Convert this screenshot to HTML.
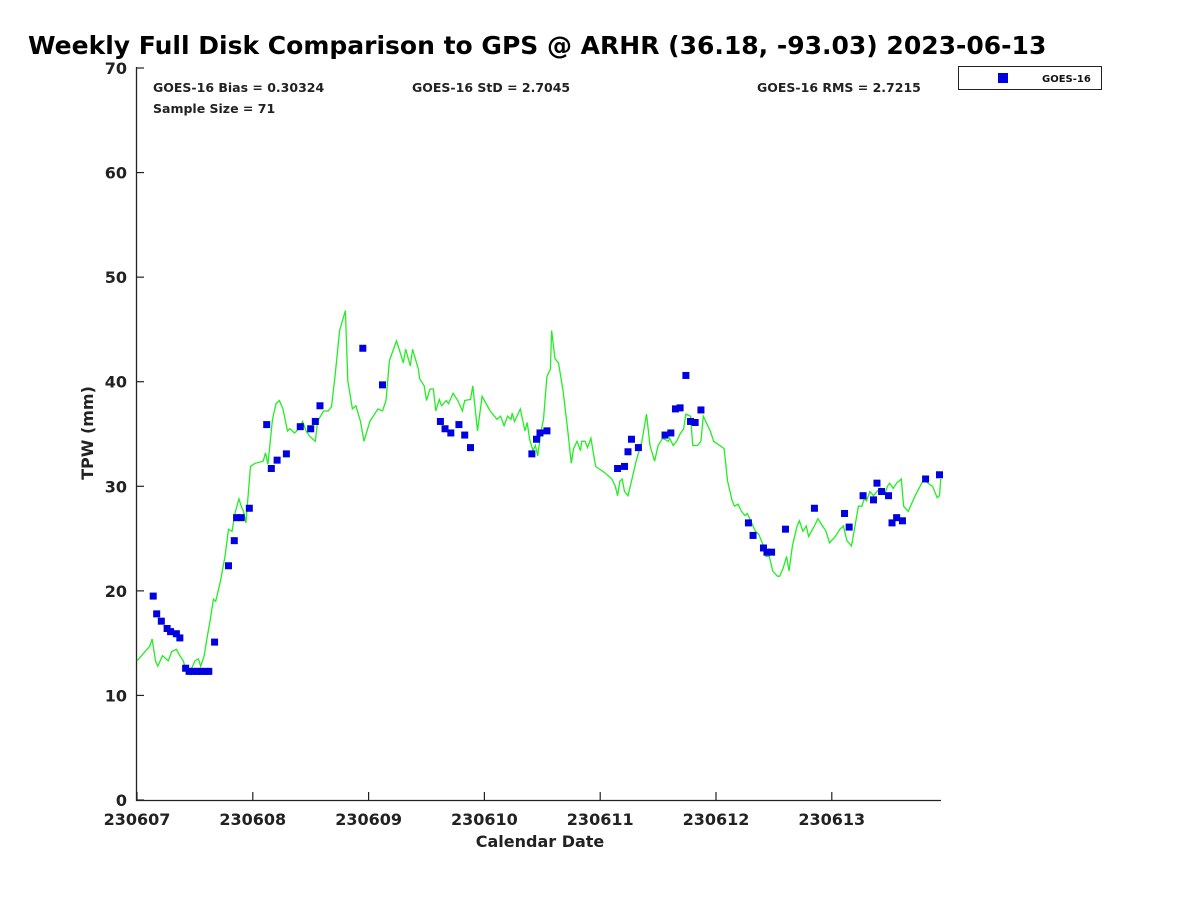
<!DOCTYPE html>
<html><head><meta charset="utf-8"><style>
body{margin:0;background:#fff;}
svg{font-family:"DejaVu Sans","Liberation Sans",sans-serif;}
</style></head><body>
<svg id="chart" width="1200" height="900">
<rect width="1200" height="900" fill="#fff"/>
<text x="28" y="54" font-size="25" font-weight="bold" fill="#000">Weekly Full Disk Comparison to GPS @ ARHR (36.18, -93.03) 2023-06-13</text>
<text x="153" y="92" font-size="12.5" font-weight="bold" fill="#222">GOES-16 Bias = 0.30324</text>
<text x="412" y="92" font-size="12.5" font-weight="bold" fill="#222">GOES-16 StD = 2.7045</text>
<text x="757" y="92" font-size="12.5" font-weight="bold" fill="#222">GOES-16 RMS = 2.7215</text>
<text x="153" y="113" font-size="12.5" font-weight="bold" fill="#222">Sample Size = 71</text>
<g>
<rect x="958.5" y="66.5" width="143" height="23" fill="#fff" stroke="#222" stroke-width="1"/>
<rect x="998" y="73" width="10" height="10" fill="#0000e0"/>
<text x="1042" y="82" font-size="10" font-weight="bold" fill="#111">GOES-16</text>
</g>
<g id="axes"></g>
<g id="series"></g>
<text x="540" y="847" font-size="16" font-weight="bold" fill="#222" text-anchor="middle">Calendar Date</text>
<text transform="translate(93,433) rotate(-90)" font-size="16" font-weight="bold" fill="#222" text-anchor="middle">TPW (mm)</text>
</svg>
<script>
const xTickLabels=["230607","230608","230609","230610","230611","230612","230613"];
const yTickValues=[0,10,20,30,40,50,60,70];
const gpsDays=[0,.11,.13,.16,.18,.22,.27,.30,.34,.37,.40,.42,.46,.50,.53,.55,.58,.60,.63,.66,.68,.72,.76,.79,.82,.85,.88,.90,.92,.94,.98,1.02,1.09,1.11,1.13,1.17,1.20,1.23,1.26,1.30,1.32,1.36,1.38,1.41,1.43,1.46,1.49,1.54,1.56,1.61,1.65,1.68,1.71,1.75,1.80,1.82,1.86,1.89,1.93,1.96,2.01,2.08,2.12,2.15,2.18,2.24,2.27,2.30,2.32,2.36,2.38,2.43,2.44,2.48,2.50,2.53,2.56,2.58,2.61,2.63,2.67,2.69,2.73,2.77,2.81,2.83,2.88,2.90,2.94,2.98,3.05,3.11,3.14,3.17,3.20,3.23,3.24,3.26,3.31,3.35,3.37,3.39,3.42,3.44,3.46,3.49,3.51,3.54,3.57,3.58,3.61,3.64,3.68,3.72,3.75,3.77,3.80,3.83,3.84,3.87,3.89,3.92,3.96,4.04,4.10,4.13,4.15,4.17,4.19,4.21,4.24,4.27,4.31,4.36,4.40,4.43,4.47,4.50,4.54,4.59,4.60,4.63,4.66,4.69,4.72,4.74,4.78,4.80,4.84,4.87,4.89,4.95,4.98,5.07,5.10,5.14,5.16,5.19,5.22,5.25,5.27,5.30,5.34,5.37,5.41,5.43,5.46,5.49,5.53,5.55,5.58,5.61,5.63,5.66,5.70,5.72,5.75,5.78,5.80,5.85,5.88,5.92,5.95,5.98,6.03,6.07,6.10,6.13,6.17,6.20,6.23,6.26,6.28,6.30,6.33,6.36,6.39,6.42,6.46,6.48,6.50,6.53,6.56,6.60,6.62,6.66,6.72,6.80,6.83,6.87,6.91,6.93,6.94];
const gpsTPW=[13.3,14.7,15.4,13.3,12.8,13.8,13.3,14.2,14.4,13.8,13.3,12.5,12.3,13.3,13.5,12.8,13.8,15.2,17.1,19.2,19.0,20.9,23.3,25.9,25.7,27.6,28.8,28.1,27.6,26.5,31.9,32.2,32.4,33.2,32.1,36.4,37.9,38.2,37.4,35.3,35.5,35.1,35.3,35.8,36.2,35.3,34.8,34.3,36.2,37.2,37.2,37.6,40.5,44.9,46.8,40.1,37.4,37.7,36.2,34.3,36.2,37.4,37.2,38.2,42.0,43.9,42.9,41.8,43.1,41.5,43.1,41.2,40.3,39.6,38.2,39.3,39.3,37.2,38.3,37.7,38.2,37.9,38.9,38.2,37.2,38.2,38.3,39.6,35.3,38.6,37.2,36.4,36.7,35.8,36.7,36.4,37.0,36.2,37.4,35.3,36.1,34.5,33.4,33.9,32.9,35.3,36.4,40.5,41.2,44.9,42.2,41.8,39.1,35.3,32.2,33.6,34.3,33.4,34.3,34.3,33.7,34.6,31.9,31.3,30.7,30.0,29.1,30.5,30.7,29.5,29.1,30.5,32.4,34.3,36.9,33.9,32.4,33.9,34.6,34.3,34.6,33.9,34.3,35.0,35.5,36.9,36.7,33.9,33.9,34.3,36.7,35.3,34.3,33.6,30.5,28.6,28.1,28.3,27.6,27.2,27.4,26.7,25.7,25.4,24.3,23.3,23.3,21.9,21.4,21.4,22.2,23.3,21.9,24.3,26.2,26.7,25.7,26.2,25.2,26.2,26.9,26.2,25.7,24.6,25.2,25.9,26.2,24.8,24.3,26.2,28.1,28.1,28.8,28.6,29.5,29.1,29.5,29.8,29.3,30.0,30.3,29.8,30.3,30.7,28.1,27.6,29.1,30.8,30.3,30.0,28.9,29.1,30.7];
const goesDays=[.14,.17,.21,.26,.29,.34,.37,.42,.45,.48,.52,.55,.59,.62,.67,.79,.84,.86,.90,.97,1.12,1.16,1.21,1.29,1.41,1.50,1.54,1.58,1.95,2.12,2.62,2.66,2.71,2.78,2.83,2.88,3.41,3.45,3.48,3.54,4.15,4.21,4.24,4.27,4.33,4.56,4.61,4.65,4.69,4.74,4.78,4.82,4.87,5.28,5.32,5.41,5.44,5.48,5.60,5.85,6.11,6.15,6.27,6.36,6.39,6.43,6.49,6.52,6.56,6.61,6.81,6.93];
const goesTPW=[19.5,17.8,17.1,16.4,16.1,15.9,15.5,12.6,12.3,12.3,12.3,12.3,12.3,12.3,15.1,22.4,24.8,27.0,27.0,27.9,35.9,31.7,32.5,33.1,35.7,35.5,36.2,37.7,43.2,39.7,36.2,35.5,35.1,35.9,34.9,33.7,33.1,34.5,35.1,35.3,31.7,31.9,33.3,34.5,33.7,34.9,35.1,37.4,37.5,40.6,36.2,36.1,37.3,26.5,25.3,24.1,23.7,23.7,25.9,27.9,27.4,26.1,29.1,28.7,30.3,29.5,29.1,26.5,27.0,26.7,30.7,31.1];

const NS='http://www.w3.org/2000/svg';
const X0=137,DAYW=115.8,Y0=800,YPX=10.457,XR=941;
function xs(d){return X0+d*DAYW;}
function ys(v){return Y0-v*YPX;}
function mk(tag,attrs,parent){const e=document.createElementNS(NS,tag);for(const k in attrs)e.setAttribute(k,attrs[k]);parent.appendChild(e);return e;}
const axes=document.getElementById('axes'),ser=document.getElementById('series');
let a=mk('path',{d:`M136.5,67 V800.5 H${XR}`,fill:'none',stroke:'#222','stroke-width':1.3},axes);


yTickValues.forEach(v=>{
  const y=ys(v);
  const t=mk('line',{x1:136,x2:144,y1:y,y2:y,stroke:'#222','stroke-width':1.2},axes);
  
  
  const l=mk('text',{x:127,y:y+6,'font-size':16,'font-weight':'bold',fill:'#222','text-anchor':'end'},axes);
  l.textContent=v;
  
  
});
xTickLabels.forEach((s,i)=>{
  const x=xs(i);
  const t=mk('line',{x1:x,x2:x,y1:800,y2:792,stroke:'#222','stroke-width':1.2},axes);
  
  
  const l=mk('text',{x:x,y:825,'font-size':16,'font-weight':'bold',fill:'#222','text-anchor':'middle'},axes);
  l.textContent=s;
  
  
});
const line=mk('polyline',{points:gpsDays.map((d,i)=>xs(d).toFixed(1)+','+ys(gpsTPW[i]).toFixed(1)).join(' '),fill:'none',stroke:'#22ee22','stroke-width':1.3},ser);


goesDays.forEach((d,i)=>{
  const r=mk('rect',{x:xs(d)-3.5,y:ys(goesTPW[i])-3.5,width:7,height:7,fill:'#0000e0'},ser);
  
  
});
</script>
</body></html>
